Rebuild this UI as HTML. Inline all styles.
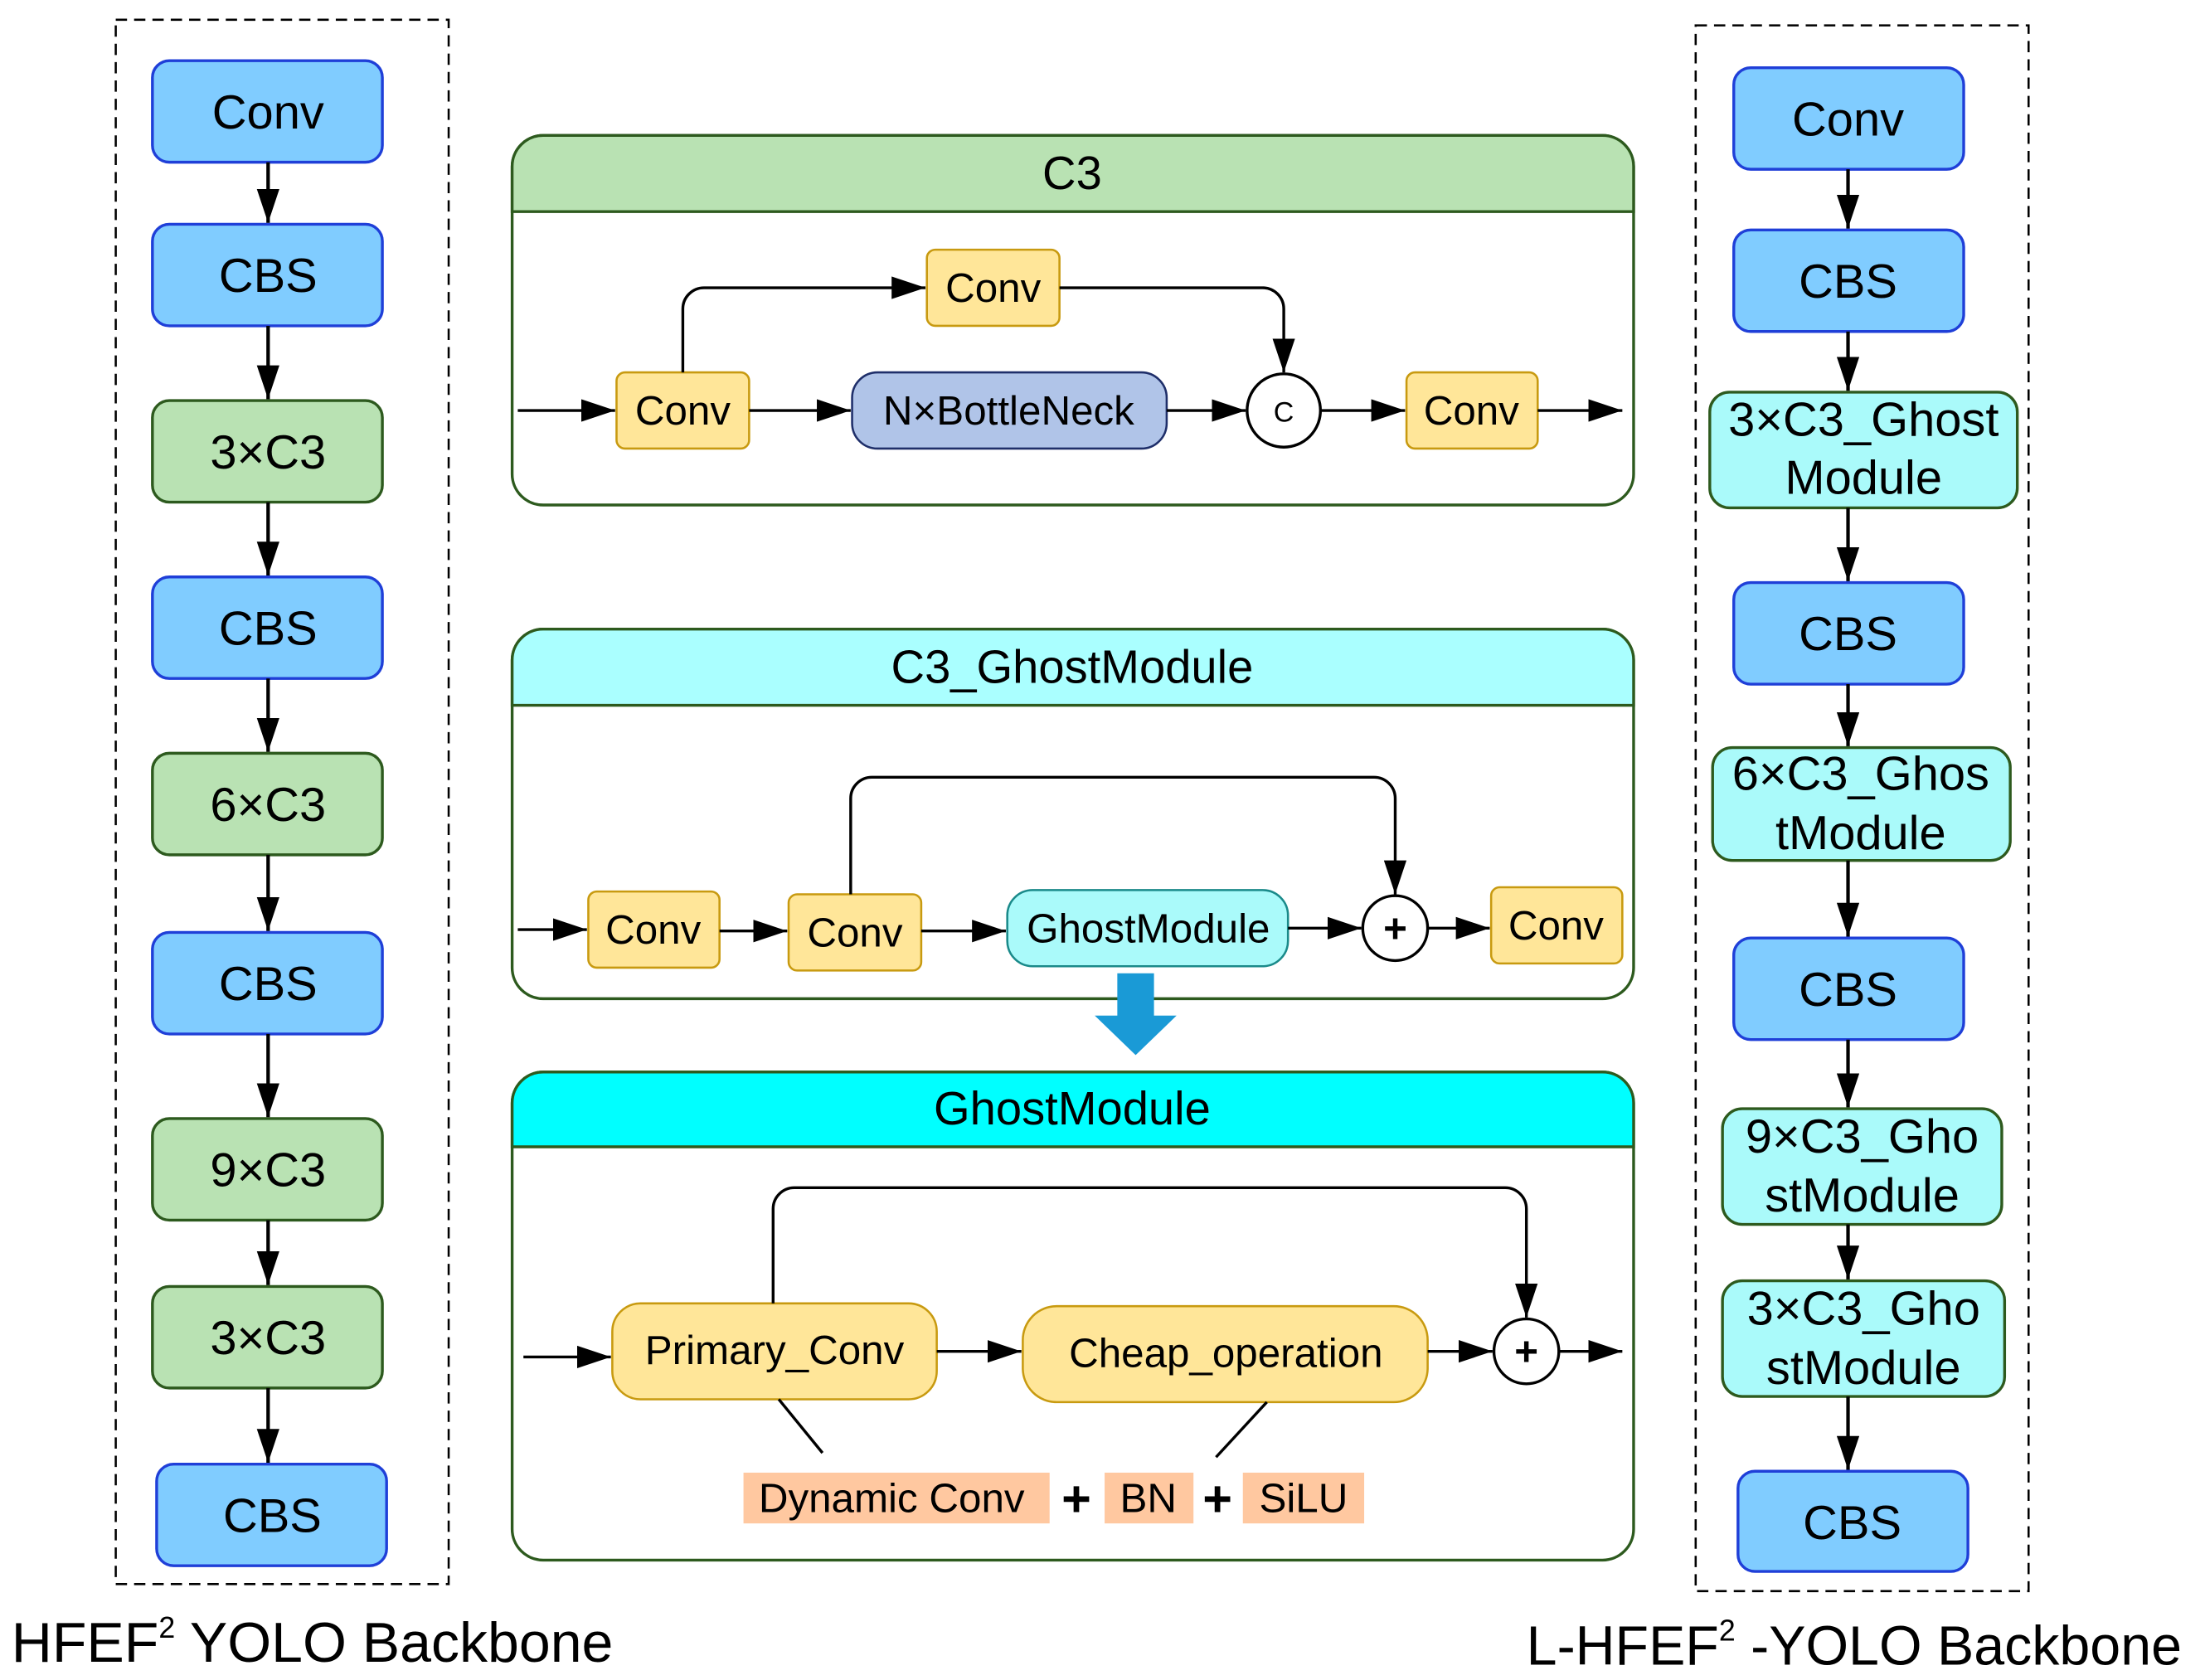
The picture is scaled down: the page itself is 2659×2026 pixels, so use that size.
<!DOCTYPE html>
<html><head><meta charset="utf-8"><style>
html,body{margin:0;padding:0;background:#fff}
svg{display:block}
text{font-family:"Liberation Sans",Arial,sans-serif;fill:#000}
</style></head><body>
<svg width="2659" height="2026" viewBox="0 0 1563 1191" xmlns="http://www.w3.org/2000/svg">
<defs>
<marker id="b" viewBox="0 0 10 10" refX="10" refY="5" markerWidth="24" markerHeight="16" markerUnits="userSpaceOnUse" orient="auto" preserveAspectRatio="none"><path d="M0,0 L10,5 L0,10 z" fill="#000"/></marker>
</defs>
<g stroke="#000" stroke-width="2" fill="none">
<rect x="82" y="14" width="236" height="1109" stroke-dasharray="8,5" stroke-width="1.5"/>
<rect x="1202" y="18" width="236" height="1110" stroke-dasharray="8,5" stroke-width="1.5"/>
</g>
<g font-size="34" text-anchor="middle">
<g stroke="#1f3fd8" stroke-width="2" fill="#80ccff">
<rect x="108" y="43" width="163" height="72" rx="12"/>
<rect x="108" y="159" width="163" height="72" rx="12"/>
<rect x="108" y="409" width="163" height="72" rx="12"/>
<rect x="108" y="661" width="163" height="72" rx="12"/>
<rect x="111" y="1038" width="163" height="72" rx="12"/>
</g>
<g stroke="#2d5a1e" stroke-width="2" fill="#b9e2b3">
<rect x="108" y="284" width="163" height="72" rx="12"/>
<rect x="108" y="534" width="163" height="72" rx="12"/>
<rect x="108" y="793" width="163" height="72" rx="12"/>
<rect x="108" y="912" width="163" height="72" rx="12"/>
</g>
<text x="190" y="91">Conv</text>
<text x="190" y="207">CBS</text>
<text x="190" y="332">3×C3</text>
<text x="190" y="457">CBS</text>
<text x="190" y="582">6×C3</text>
<text x="190" y="709">CBS</text>
<text x="190" y="841">9×C3</text>
<text x="190" y="960">3×C3</text>
<text x="193" y="1086">CBS</text>
</g>
<g stroke="#000" stroke-width="2.5" marker-end="url(#b)">
<line x1="190" y1="115" x2="190" y2="158"/>
<line x1="190" y1="231" x2="190" y2="283"/>
<line x1="190" y1="356" x2="190" y2="408"/>
<line x1="190" y1="481" x2="190" y2="533"/>
<line x1="190" y1="606" x2="190" y2="660"/>
<line x1="190" y1="733" x2="190" y2="792"/>
<line x1="190" y1="865" x2="190" y2="911"/>
<line x1="190" y1="984" x2="190" y2="1037"/>
</g>
<text x="8" y="1178" font-size="40">HFEF<tspan font-size="21" dy="-17">2</tspan><tspan dy="17"> YOLO Backbone</tspan></text>
<g font-size="34" text-anchor="middle">
<g stroke="#1f3fd8" stroke-width="2" fill="#80ccff">
<rect x="1229" y="48" width="163" height="72" rx="12"/>
<rect x="1229" y="163" width="163" height="72" rx="12"/>
<rect x="1229" y="413" width="163" height="72" rx="12"/>
<rect x="1229" y="665" width="163" height="72" rx="12"/>
<rect x="1232" y="1043" width="163" height="71" rx="12"/>
</g>
<g stroke="#2d5a1e" stroke-width="2" fill="#aafafa">
<rect x="1212" y="278" width="218" height="82" rx="14"/>
<rect x="1214" y="530" width="211" height="80" rx="14"/>
<rect x="1221" y="786" width="198" height="82" rx="14"/>
<rect x="1221" y="908" width="200" height="82" rx="14"/>
</g>
<text x="1310" y="96">Conv</text>
<text x="1310" y="211">CBS</text>
<text x="1321" y="309">3×C3_Ghost</text>
<text x="1321" y="350">Module</text>
<text x="1310" y="461">CBS</text>
<text x="1319" y="560">6×C3_Ghos</text>
<text x="1319" y="602">tModule</text>
<text x="1310" y="713">CBS</text>
<text x="1320" y="817">9×C3_Gho</text>
<text x="1320" y="859">stModule</text>
<text x="1321" y="939">3×C3_Gho</text>
<text x="1321" y="981">stModule</text>
<text x="1313" y="1091">CBS</text>
</g>
<g stroke="#000" stroke-width="2.5" marker-end="url(#b)">
<line x1="1310" y1="120" x2="1310" y2="162"/>
<line x1="1310" y1="235" x2="1310" y2="277"/>
<line x1="1310" y1="360" x2="1310" y2="412"/>
<line x1="1310" y1="485" x2="1310" y2="529"/>
<line x1="1310" y1="610" x2="1310" y2="664"/>
<line x1="1310" y1="737" x2="1310" y2="785"/>
<line x1="1310" y1="868" x2="1310" y2="907"/>
<line x1="1310" y1="990" x2="1310" y2="1042"/>
</g>
<text x="1082" y="1180" font-size="39">L-HFEF<tspan font-size="21" dy="-17">2</tspan><tspan dy="17"> -YOLO Backbone</tspan></text>

<rect x="363" y="96" width="795" height="262" rx="22" fill="#fff" stroke="#2d5a1e" stroke-width="2"/>
<path d="M363,150 V118 a22,22 0 0 1 22,-22 H1136 a22,22 0 0 1 22,22 V150 z" fill="#b9e2b3" stroke="#2d5a1e" stroke-width="2"/>
<text x="760" y="134" font-size="33" text-anchor="middle">C3</text>
<g stroke="#c89a10" stroke-width="1.5" fill="#ffe699">
<rect x="437" y="264" width="94" height="54" rx="6"/>
<rect x="657" y="177" width="94" height="54" rx="6"/>
<rect x="997" y="264" width="93" height="54" rx="6"/>
</g>
<rect x="604" y="264" width="223" height="54" rx="18" fill="#b0c4e8" stroke="#1f2f6a" stroke-width="1.5"/>
<circle cx="910" cy="291" r="26" fill="#fff" stroke="#000" stroke-width="2"/>
<g font-size="29" text-anchor="middle">
<text x="484" y="301">Conv</text>
<text x="704" y="214">Conv</text>
<text x="1043" y="301">Conv</text>
<text x="715" y="301">N×BottleNeck</text>
<text x="910" y="299" font-size="20">C</text>
</g>
<g stroke="#000" stroke-width="2" fill="none" marker-end="url(#b)">
<line x1="367" y1="291" x2="436" y2="291"/>
<line x1="531" y1="291" x2="603" y2="291"/>
<line x1="827" y1="291" x2="883" y2="291"/>
<line x1="936" y1="291" x2="996" y2="291"/>
<line x1="1090" y1="291" x2="1150" y2="291"/>
<path d="M484,264 V219 a15,15 0 0 1 15,-15 H656"/>
<path d="M751,204 H895 a15,15 0 0 1 15,15 V264"/>
</g>

<rect x="363" y="446" width="795" height="262" rx="22" fill="#fff" stroke="#2d5a1e" stroke-width="2"/>
<path d="M363,500 V468 a22,22 0 0 1 22,-22 H1136 a22,22 0 0 1 22,22 V500 z" fill="#aaffff" stroke="#2d5a1e" stroke-width="2"/>
<text x="760" y="484" font-size="33" text-anchor="middle">C3_GhostModule</text>
<g stroke="#c89a10" stroke-width="1.5" fill="#ffe699">
<rect x="417" y="632" width="93" height="54" rx="6"/>
<rect x="559" y="634" width="94" height="54" rx="6"/>
<rect x="1057" y="629" width="93" height="54" rx="6"/>
</g>
<rect x="714" y="631" width="199" height="54" rx="18" fill="#aafafa" stroke="#1a8a8a" stroke-width="1.5"/>
<circle cx="989" cy="658" r="23" fill="#fff" stroke="#000" stroke-width="2"/>
<g font-size="29" text-anchor="middle">
<text x="463" y="669">Conv</text>
<text x="606" y="671">Conv</text>
<text x="1103" y="666">Conv</text>
<text x="814" y="668">GhostModule</text>
<text x="989" y="668" font-weight="bold">+</text>
</g>
<g stroke="#000" stroke-width="2" fill="none" marker-end="url(#b)">
<line x1="367" y1="659" x2="416" y2="659"/>
<line x1="510" y1="660" x2="558" y2="660"/>
<line x1="653" y1="660" x2="713" y2="660"/>
<line x1="913" y1="658" x2="965" y2="658"/>
<line x1="1012" y1="658" x2="1056" y2="658"/>
<path d="M603,634 V566 a15,15 0 0 1 15,-15 H974 a15,15 0 0 1 15,15 V634"/>
</g>
<path d="M792,690 H818 V720 H834 L805,748 L776,720 H792 z" fill="#1a9ad6"/>

<rect x="363" y="760" width="795" height="346" rx="22" fill="#fff" stroke="#2d5a1e" stroke-width="2"/>
<path d="M363,813 V782 a22,22 0 0 1 22,-22 H1136 a22,22 0 0 1 22,22 V813 z" fill="#00ffff" stroke="#2d5a1e" stroke-width="2"/>
<text x="760" y="797" font-size="33" text-anchor="middle">GhostModule</text>
<rect x="434" y="924" width="230" height="68" rx="20" fill="#ffe699" stroke="#c89a10" stroke-width="1.5"/>
<rect x="725" y="926" width="287" height="68" rx="24" fill="#ffe699" stroke="#c89a10" stroke-width="1.5"/>
<circle cx="1082" cy="958" r="23" fill="#fff" stroke="#000" stroke-width="2"/>
<g font-size="29" text-anchor="middle">
<text x="549" y="967">Primary_Conv</text>
<text x="869" y="969">Cheap_operation</text>
<text x="1082" y="968" font-weight="bold">+</text>
</g>
<g stroke="#000" stroke-width="2" fill="none" marker-end="url(#b)">
<line x1="371" y1="962" x2="433" y2="962"/>
<line x1="664" y1="958" x2="724" y2="958"/>
<line x1="1012" y1="958" x2="1058" y2="958"/>
<line x1="1105" y1="958" x2="1150" y2="958"/>
<path d="M548,924 V857 a15,15 0 0 1 15,-15 H1067 a15,15 0 0 1 15,15 V934"/>
</g>
<g stroke="#000" stroke-width="2">
<line x1="552" y1="992" x2="583" y2="1030"/>
<line x1="898" y1="994" x2="862" y2="1033"/>
</g>
<g fill="#ffc8a0">
<rect x="527" y="1044" width="217" height="36"/>
<rect x="783" y="1044" width="63" height="36"/>
<rect x="881" y="1044" width="86" height="36"/>
</g>
<g font-size="29" text-anchor="middle">
<text x="632" y="1072">Dynamic Conv</text>
<text x="814" y="1072">BN</text>
<text x="924" y="1072">SiLU</text>
<text x="763" y="1075" font-size="36" font-weight="bold">+</text>
<text x="863" y="1075" font-size="36" font-weight="bold">+</text>
</g>
</svg>
</body></html>
